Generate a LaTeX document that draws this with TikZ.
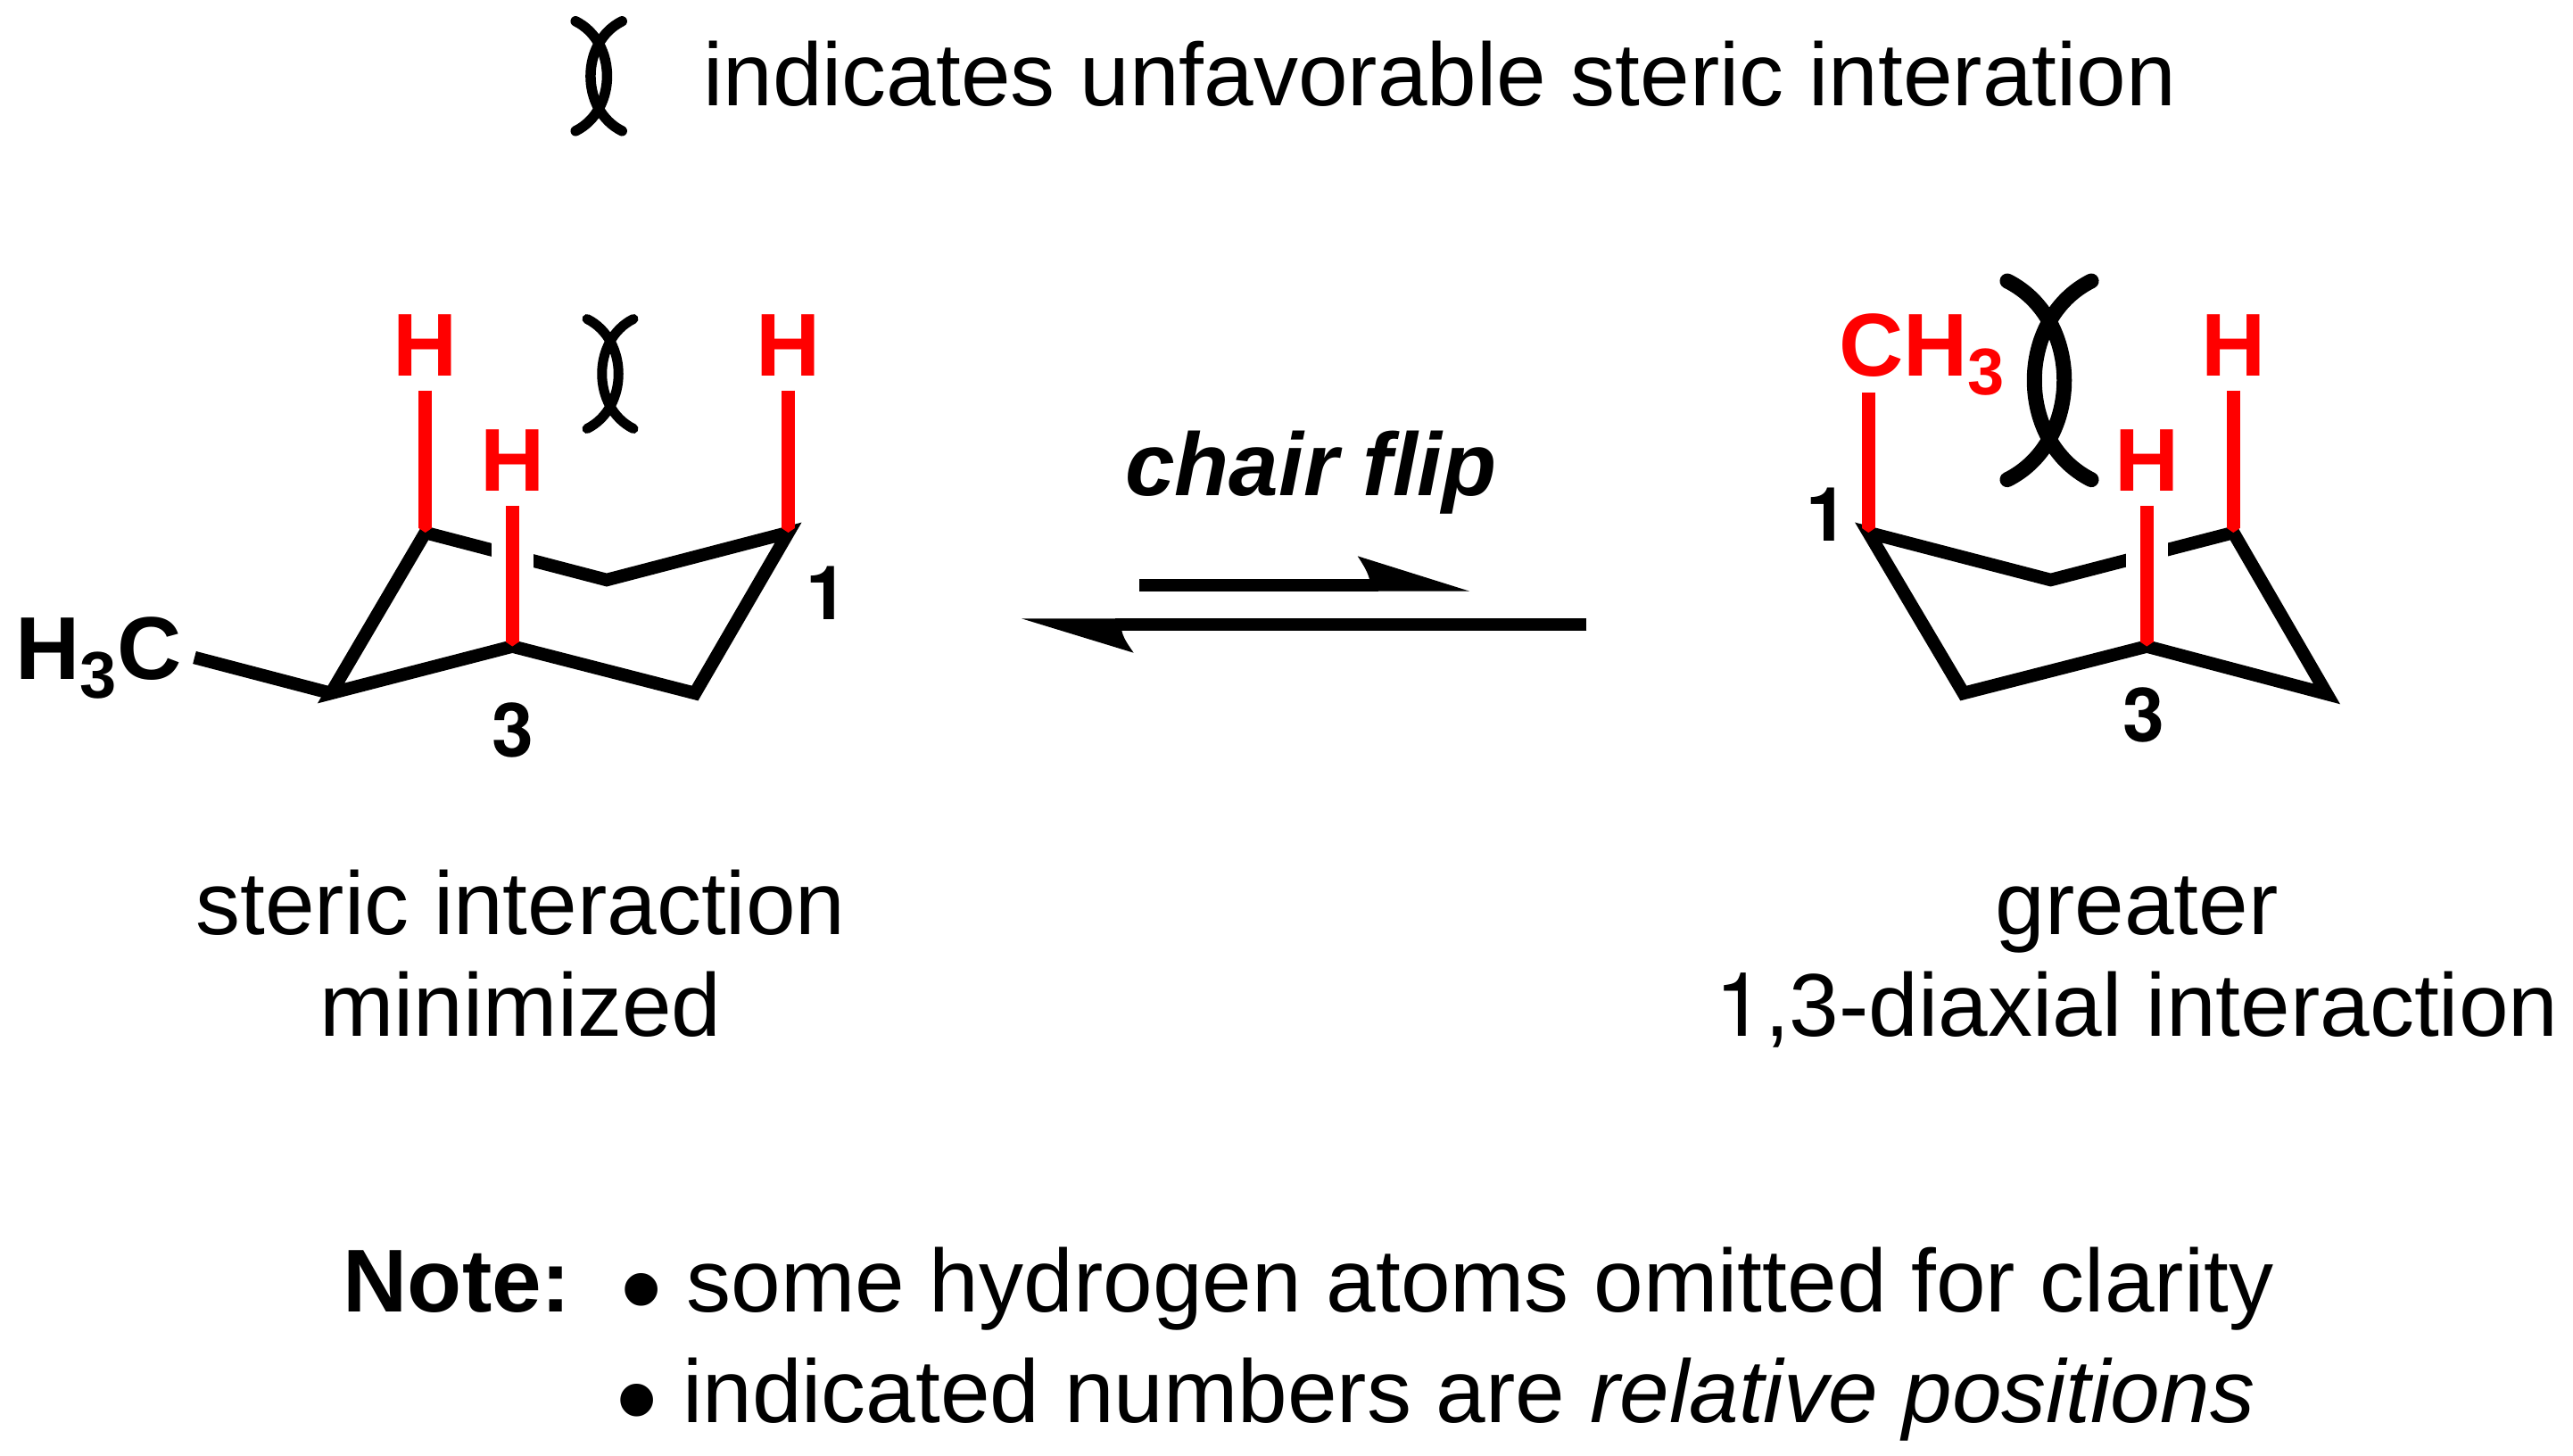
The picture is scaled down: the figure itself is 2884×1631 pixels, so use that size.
\documentclass[tikz,border=0pt]{standalone}
\usepackage{fontspec}
\setmainfont{Liberation Sans}
\newfontfamily\heros{TeX Gyre Heros}
\usetikzlibrary{arrows.meta, positioning}
\newcommand{\subthree}{\raisebox{-21pt}{\fontsize{74}{74}\selectfont 3}}
\newcommand{\stericmark}[4]{%
  \begin{scope}[shift={(#1,#2)}, scale=#3]
    \draw[stericline, line width=#4pt] (26,-61.5) .. controls (-21,-38) and (-21,38) .. (26,61.5);
    \draw[stericline, line width=#4pt] (-26,-61.5) .. controls (21,-38) and (21,38) .. (-26,61.5);
  \end{scope}}
\begin{document}
\begin{tikzpicture}[
    x=1pt, y=-1pt,
    plaintext/.style={inner sep=0pt, anchor=base, font=\fontsize{100}{100}\selectfont},
    atom/.style={inner sep=0pt, anchor=base, font=\fontsize{100}{100}\selectfont\bfseries},
    redatom/.style={atom, text=red},
    locant/.style={inner sep=0pt, anchor=base, font=\fontsize{84}{84}\selectfont\bfseries\heros},
    listdot/.style={inner sep=0pt, anchor=base, font=\fontsize{135}{135}\selectfont},
    ring/.style={line width=14.5pt, miter limit=10},
    axial/.style={line width=14.5pt, red, -{Triangle[length=5pt, width=14.5pt]}},
    gap/.style={line width=47.5pt, white},
    stericline/.style={line cap=round},
    shaft/.style={line width=13.3pt}
]
    \useasboundingbox (0,0) rectangle (2884,1631);

    % Key
    \stericmark{671.2}{85.3}{1}{11.5}
    \node[plaintext, anchor=base west] (key) at (788,118.3) {indicates unfavorable steric interation};

    % Left chair
    \coordinate (la) at (476.7,597);
    \coordinate (lb) at (680,650);
    \coordinate (lc) at (883.5,597);
    \coordinate (ld) at (779,777);
    \coordinate (le) at (574.3,724.5);
    \coordinate (lf) at (371,777);
    \draw[ring] (la) -- (lb) -- (lc) -- (ld) -- (le) -- (lf) -- cycle;
    \draw[gap] (574.5,585) -- (574.5,665);
    \node[redatom] (lh1) at (476.7,421.7) {H};
    \node[redatom] (lh2) at (883.5,421.7) {H};
    \node[redatom] (lh3) at (574.3,550.7) {H};
    \coordinate (lh1end) at (476.7,437.7);
    \coordinate (lh2end) at (883.5,437.7);
    \coordinate (lh3end) at (574.3,566.7);
    \draw[axial] (lh1end) -- (la);
    \draw[axial] (lh2end) -- (lc);
    \draw[axial] (lh3end) -- (le);
    \node[atom, anchor=base west] (lme) at (17.5,761) {H\subthree C};
    \coordinate (lmeend) at (218,737);
    \draw[ring] (lmeend) -- (lf);
    \node[locant] (lone) at (926.5,694) {1};
    \node[locant] (lthree) at (575,848.5) {3};
    \stericmark{684}{419}{1}{11}

    % Equilibrium arrows
    \node[atom, font=\fontsize{100}{100}\selectfont\bfseries\itshape] (flip) at (1469.5,555) {chair flip};
    \coordinate (fwdstart) at (1277.3,656);
    \coordinate (fwdend) at (1545,656);
    \draw[shaft] (fwdstart) -- (fwdend);
    \fill (1647.3,662.7) -- (1521.7,623.3) .. controls (1528,633) and (1533,641) .. (1535,649.3) -- (1537.3,662.7) -- cycle;
    \coordinate (revstart) at (1778.3,700);
    \coordinate (revend) at (1250,700);
    \draw[shaft] (revstart) -- (revend);
    \fill (1145,693.3) -- (1270.7,731.7) .. controls (1264,722) and (1259,715) .. (1257.3,706.7) -- (1256,693.3) -- cycle;

    % Right chair
    \coordinate (ra) at (2094.3,597);
    \coordinate (rb) at (2298.5,650);
    \coordinate (rc) at (2503.3,597);
    \coordinate (rd) at (2608,777.8);
    \coordinate (re) at (2406.3,724.5);
    \coordinate (rf) at (2200.8,777);
    \draw[ring] (ra) -- (rb) -- (rc) -- (rd) -- (re) -- (rf) -- cycle;
    \draw[gap] (2406.3,585) -- (2406.3,665);
    \node[redatom, anchor=base west] (rme) at (2061,421.7) {CH\subthree};
    \node[redatom] (rh1) at (2503.3,421.7) {H};
    \node[redatom] (rh2) at (2406.3,550.7) {H};
    \coordinate (rmeend) at (2094.3,440);
    \coordinate (rh1end) at (2503.3,437.7);
    \coordinate (rh2end) at (2406.3,566.7);
    \draw[axial] (rmeend) -- (ra);
    \draw[axial] (rh1end) -- (rc);
    \draw[axial] (rh2end) -- (re);
    \node[locant] (rone) at (2048,606) {1};
    \node[locant] (rthree) at (2403,831.5) {3};
    \stericmark{2297}{426.3}{1.81}{17}

    % Captions
    \node[plaintext] (lcap1) at (583.5,1047) {steric interaction};
    \node[plaintext] (lcap2) at (583.5,1161.5) {minimized};
    \node[plaintext] (rcap1) at (2395,1047) {greater};
    \node[plaintext] (rcap2) at (2395,1161.5) {{\heros 1},3-diaxial interaction};

    % Note
    \node[atom, anchor=base west] (note) at (384.5,1470) {Note:};
    \node[listdot] (bullet1) at (719,1490) {•};
    \node[plaintext, anchor=base west] (note1) at (769.5,1470) {some hydrogen atoms omitted for clarity};
    \node[listdot] (bullet2) at (714,1614) {•};
    \node[plaintext, anchor=base west] (note2) at (765,1594) {indicated numbers are \textit{relative positions}};
\end{tikzpicture}
\end{document}
